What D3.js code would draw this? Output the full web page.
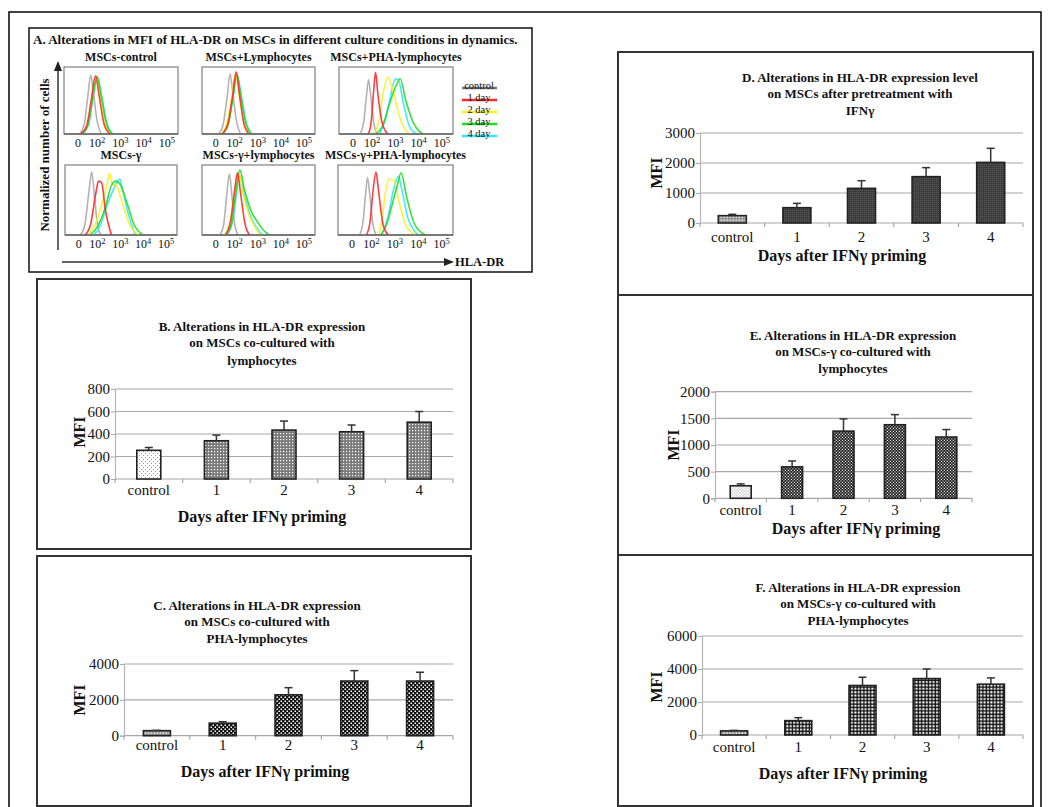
<!DOCTYPE html>
<html>
<head>
<meta charset="utf-8">
<script src="https://cdn.jsdelivr.net/npm/d3@7"></script>
<style>
  body { margin: 0; background: #fff; }
  svg text { font-family: "Liberation Serif", "Times New Roman", serif; fill: #111; }
</style>
</head>
<body>
<svg id="fig" width="1049" height="807"></svg>
<script>
// ---- data ----
const days = ["control", "1", "2", "3", "4"];

const mfiB = [255, 340, 435, 420, 505];
const errB = [25, 50, 80, 60, 95];
const mfiC = [280, 700, 2280, 3050, 3050];
const errC = [20, 80, 400, 580, 490];
const mfiD = [245, 510, 1155, 1545, 2020];
const errD = [45, 145, 255, 300, 470];
const mfiE = [235, 590, 1260, 1380, 1150];
const errE = [35, 110, 230, 190, 140];
const mfiF = [250, 870, 3000, 3420, 3080];
const errF = [30, 180, 500, 580, 380];

const ticksB = [0, 200, 400, 600, 800];
const ticksC = [0, 2000, 4000];
const ticksD = [0, 1000, 2000, 3000];
const ticksE = [0, 500, 1000, 1500, 2000];
const ticksF = [0, 2000, 4000, 6000];

// histogram legend
const legendLabels = ["control", "1 day", "2 day", "3 day", "4 day"];
const legendColors = ["#9a9a9a", "#ff2a2a", "#ffee22", "#22dd22", "#33e6ff"];

// histogram tick labels (decade position, exponent)
const histTicks = [[1.18, null], [2, "2"], [3, "3"], [4, "4"], [5, "5"]];

const histTitles = ["MSCs-control", "MSCs+Lymphocytes", "MSCs+PHA-lymphocytes",
                    "MSCs-γ", "MSCs-γ+lymphocytes", "MSCs-γ+PHA-lymphocytes"];

// curves: [log10 position, relative height], order grey, red, yellow, green, cyan
const histCtrl = [
  [[1.25,0],[1.45,0.15],[1.6,0.55],[1.73,0.88],[1.85,0.6],[2.0,0.2],[2.18,0]],
  [[1.3,0],[1.55,0.12],[1.75,0.5],[1.93,0.87],[2.1,0.55],[2.3,0.15],[2.55,0]],
  [[1.32,0],[1.6,0.15],[1.8,0.55],[1.97,0.87],[2.15,0.55],[2.35,0.15],[2.6,0]],
  [[1.35,0],[1.62,0.14],[1.82,0.55],[2.0,0.86],[2.18,0.57],[2.4,0.16],[2.65,0]],
  [[1.35,0],[1.63,0.14],[1.83,0.55],[2.01,0.85],[2.2,0.57],[2.42,0.16],[2.68,0]]
];
const histLymph = [
  [[1.3,0],[1.5,0.15],[1.67,0.55],[1.8,0.9],[1.92,0.6],[2.07,0.2],[2.25,0]],
  [[1.45,0],[1.7,0.15],[1.9,0.55],[2.06,0.93],[2.2,0.6],[2.4,0.15],[2.62,0]],
  [[1.4,0],[1.65,0.15],[1.87,0.55],[2.04,0.9],[2.2,0.55],[2.42,0.15],[2.65,0]],
  [[1.45,0],[1.72,0.15],[1.92,0.55],[2.09,0.9],[2.25,0.6],[2.47,0.17],[2.73,0]],
  [[1.45,0],[1.72,0.15],[1.93,0.55],[2.1,0.88],[2.27,0.6],[2.5,0.17],[2.75,0]]
];
const histPha = [
  [[1.5,0],[1.65,0.2],[1.77,0.6],[1.85,0.81],[1.95,0.55],[2.08,0.15],[2.21,0]],
  [[1.84,0],[1.97,0.2],[2.07,0.65],[2.15,0.92],[2.25,0.6],[2.45,0.15],[2.68,0]],
  [[2.11,0],[2.3,0.2],[2.5,0.65],[2.68,0.85],[2.9,0.65],[3.15,0.3],[3.4,0.08],[3.61,0]],
  [[2.18,0],[2.45,0.12],[2.75,0.45],[2.95,0.65],[3.21,0.82],[3.45,0.5],[3.8,0.15],[4.18,0]],
  [[2.33,0],[2.6,0.25],[2.85,0.65],[3.0,0.82],[3.12,0.82],[3.35,0.45],[3.6,0.12],[3.9,0]]
];
const histGamma = [
  [[1.25,0],[1.45,0.15],[1.62,0.6],[1.75,0.9],[1.87,0.55],[2.0,0.15],[2.15,0]],
  [[1.46,0],[1.7,0.15],[1.93,0.6],[2.05,0.77],[2.18,0.75],[2.35,0.35],[2.61,0]],
  [[1.61,0],[1.9,0.15],[2.2,0.45],[2.4,0.7],[2.54,0.88],[2.65,0.72],[2.8,0.72],[3.05,0.5],[3.4,0.15],[3.8,0]],
  [[1.68,0],[2.0,0.12],[2.35,0.4],[2.6,0.7],[2.8,0.77],[3.0,0.72],[3.3,0.45],[3.6,0.15],[4.0,0]],
  [[1.85,0],[2.1,0.12],[2.45,0.45],[2.8,0.72],[2.97,0.8],[3.1,0.65],[3.35,0.3],[3.65,0]]
];
const histGammaLymph = [
  [[1.35,0],[1.52,0.15],[1.66,0.6],[1.77,0.87],[1.88,0.55],[2.0,0.15],[2.15,0]],
  [[1.6,0],[1.82,0.2],[2.0,0.65],[2.12,0.89],[2.25,0.6],[2.45,0.15],[2.65,0]],
  [[1.55,0],[1.8,0.18],[2.0,0.6],[2.17,0.9],[2.35,0.6],[2.6,0.3],[2.9,0.1],[3.1,0]],
  [[1.6,0],[1.85,0.15],[2.05,0.6],[2.22,0.93],[2.42,0.65],[2.7,0.35],[3.0,0.18],[3.3,0.05],[3.5,0]],
  [[1.65,0],[1.9,0.18],[2.08,0.6],[2.2,0.86],[2.38,0.62],[2.65,0.3],[2.95,0.1],[3.2,0]]
];
const histGammaPha = [
  [[1.5,0],[1.65,0.2],[1.76,0.6],[1.84,0.82],[1.94,0.55],[2.07,0.15],[2.2,0]],
  [[1.8,0],[1.95,0.2],[2.08,0.65],[2.2,0.9],[2.3,0.65],[2.5,0.15],[2.72,0]],
  [[2.3,0],[2.45,0.2],[2.6,0.6],[2.75,0.8],[2.95,0.78],[3.2,0.45],[3.5,0.12],[3.9,0]],
  [[2.4,0],[2.65,0.15],[2.9,0.45],[3.1,0.7],[3.27,0.89],[3.5,0.55],[3.85,0.15],[4.3,0]],
  [[2.45,0],[2.7,0.25],[2.95,0.65],[3.15,0.84],[3.3,0.65],[3.55,0.25],[3.85,0.05],[4.0,0]]
];
const histData = [histCtrl, histLymph, histPha, histGamma, histGammaLymph, histGammaPha];

// ---- drawing ----
const svg = d3.select("#fig");
const defs = svg.append("defs");

function pattern(id, size, bg, dots, dotColor) {
  const p = defs.append("pattern")
      .attr("id", id)
      .attr("patternUnits", "userSpaceOnUse")
      .attr("width", size).attr("height", size);
  p.append("rect").attr("width", size).attr("height", size).attr("fill", bg);
  dots.forEach(d => p.append("rect")
      .attr("x", d[0]).attr("y", d[1]).attr("width", d[2]).attr("height", d[3])
      .attr("fill", dotColor));
}
pattern("lightDots", 4, "#fff", [[1,1,1,1],[3,3,1,1]], "#9a9a9a");
pattern("greyDots", 3, "#7a7a7a", [[1,1,1.2,1.2]], "#fff");
pattern("ctrlGrey", 3, "#8f8f8f", [[0.5,0.5,1.6,1.2]], "#fff");
pattern("checker", 4, "#111", [[0.5,0.5,1.5,1.5],[2.5,2.5,1.5,1.5]], "#fff");
pattern("darkFine", 2, "#3c3c3c", [[0,0,1,1]], "#5a5a5a");
pattern("checkerSmall", 3, "#151515", [[0.3,0.3,1.2,1.2],[1.8,1.8,1.2,1.2]], "#eee");
pattern("ctrlLight", 3, "#d4d4d4", [[0,0,1.5,1.5],[1.5,1.5,1.5,1.5]], "#fff");
pattern("grid", 3.4, "#111", [[1,1,2,2]], "#fff");

// outer frame
svg.append("rect")
    .attr("x", 9).attr("y", 12).attr("width", 1032).attr("height", 820)
    .attr("fill", "none").attr("stroke", "#111").attr("stroke-width", 1.6);

// ---- panel A: histograms ----
const panelA = svg.append("g").attr("class", "panel-a");
panelA.append("rect")
    .attr("x", 29).attr("y", 28).attr("width", 503).attr("height", 244)
    .attr("fill", "#fff").attr("stroke", "#111").attr("stroke-width", 1.5);
panelA.append("text")
    .attr("x", 33).attr("y", 44)
    .attr("font-size", 13).attr("font-weight", "bold")
    .text("A. Alterations in MFI of  HLA-DR on MSCs in different culture conditions in dynamics.");

const histBoxes = [
  {x0: 64, x1: 178, y0: 67, y1: 134},
  {x0: 202, x1: 315, y0: 67, y1: 134},
  {x0: 339, x1: 453, y0: 67, y1: 134},
  {x0: 65, x1: 177, y0: 165, y1: 235},
  {x0: 202, x1: 315, y0: 165, y1: 235},
  {x0: 338, x1: 453, y0: 165, y1: 235}
];
const drawOrder = [0, 4, 2, 3, 1];

histBoxes.forEach((b, i) => {
  const g = panelA.append("g");
  const hx = d3.scaleLinear().domain([0.58, 5.48]).range([b.x0, b.x1]);
  const hy = d3.scaleLinear().domain([0, 1]).range([b.y1, b.y0]);
  g.append("text")
      .attr("x", (b.x0 + b.x1) / 2).attr("y", b.y0 - 6)
      .attr("text-anchor", "middle").attr("font-size", 12).attr("font-weight", "bold")
      .text(histTitles[i]);
  g.append("rect")
      .attr("x", b.x0).attr("y", b.y0).attr("width", b.x1 - b.x0).attr("height", b.y1 - b.y0)
      .attr("fill", "#fff").attr("stroke", "#8a8a8a").attr("stroke-width", 1.3);
  const line = d3.line().x(d => hx(d[0])).y(d => hy(d[1])).curve(d3.curveMonotoneX);
  drawOrder.forEach(k => {
    g.append("path")
        .attr("d", line(histData[i][k]))
        .attr("fill", "none").attr("stroke", legendColors[k])
        .attr("stroke-width", 1.6).attr("opacity", k === 0 ? 0.75 : 0.9);
  });
  g.append("line")
      .attr("x1", b.x0).attr("x2", b.x1).attr("y1", b.y1).attr("y2", b.y1)
      .attr("stroke", "#666").attr("stroke-width", 1.3);
  histTicks.forEach(t => {
    const tx = g.append("text")
        .attr("x", hx(t[0])).attr("y", b.y1 + 13)
        .attr("text-anchor", "middle").attr("font-size", 12);
    if (t[1] === null) {
      tx.text("0");
    } else {
      tx.append("tspan").text("10");
      tx.append("tspan").attr("dy", -4).attr("font-size", 8.5).text(t[1]);
    }
  });
});

// legend
const legendY = [88, 100, 112, 124, 136];
legendLabels.forEach((lab, k) => {
  const ly = legendY[k];
  panelA.append("line")
      .attr("x1", 462).attr("x2", 497).attr("y1", ly).attr("y2", ly)
      .attr("stroke", k === 0 ? "#777" : legendColors[k]).attr("stroke-width", 2.6);
  panelA.append("text")
      .attr("x", 479).attr("y", ly + 1)
      .attr("text-anchor", "middle").attr("font-size", 10.5)
      .text(lab);
});

// axis arrows
const arrowDefs = defs.append("marker")
    .attr("id", "arrow").attr("viewBox", "0 0 10 10")
    .attr("refX", 8).attr("refY", 5)
    .attr("markerWidth", 7).attr("markerHeight", 7)
    .attr("orient", "auto-start-reverse");
arrowDefs.append("path").attr("d", "M0,1L10,5L0,9z").attr("fill", "#222");

panelA.append("line")
    .attr("x1", 58).attr("x2", 58).attr("y1", 250).attr("y2", 63)
    .attr("stroke", "#333").attr("stroke-width", 1.5).attr("marker-end", "url(#arrow)");
panelA.append("line")
    .attr("x1", 62).attr("x2", 452).attr("y1", 262).attr("y2", 262)
    .attr("stroke", "#333").attr("stroke-width", 1.5).attr("marker-end", "url(#arrow)");
panelA.append("text")
    .attr("x", 455).attr("y", 266)
    .attr("font-size", 12.5).attr("font-weight", "bold")
    .text("HLA-DR");
panelA.append("text")
    .attr("transform", "translate(49,155) rotate(-90)")
    .attr("text-anchor", "middle").attr("font-size", 13).attr("font-weight", "bold")
    .text("Normalized number of cells");

// ---- bar panels ----
const barPanels = [
  {values: mfiB, errors: errB, ticks: ticksB, box: [37, 279, 471, 549],
   plot: [115, 453, 479, 389], barW: 24, titleX: 262, titleY: [331, 347, 365],
   catY: 495, xLabY: 522, xLabX: 262, mfi: [80, 432],
   fills: ["lightDots", "greyDots"],
   title: ["B. Alterations in HLA-DR expression", "on MSCs co-cultured with", "lymphocytes"]},
  {values: mfiC, errors: errC, ticks: ticksC, box: [37, 556, 471, 806],
   plot: [124, 453, 735.7, 664], barW: 27, titleX: 257, titleY: [609.5, 625.5, 642.5],
   catY: 750, xLabY: 777, xLabX: 265, mfi: [80, 700],
   fills: ["ctrlGrey", "checker"],
   title: ["C. Alterations in HLA-DR expression", "on MSCs co-cultured with", "PHA-lymphocytes"]},
  {values: mfiD, errors: errD, ticks: ticksD, box: [618, 52, 1033, 295],
   plot: [700, 1023, 223, 133], barW: 28, titleX: 860, titleY: [81.5, 97.5, 114.5],
   catY: 242, xLabY: 260.5, xLabX: 842, mfi: [657, 173],
   fills: ["ctrlGrey", "darkFine"],
   title: ["D. Alterations in HLA-DR expression level", "on MSCs after pretreatment with", "IFNγ"]},
  {values: mfiE, errors: errE, ticks: ticksE, box: [618, 295, 1033, 555],
   plot: [715, 972, 498.3, 391.7], barW: 21, titleX: 853, titleY: [339.5, 355.5, 372.5],
   catY: 515, xLabY: 533.5, xLabX: 856, mfi: [674, 445],
   fills: ["ctrlLight", "checkerSmall"],
   title: ["E. Alterations in HLA-DR expression", "on MSCs-γ co-cultured with", "lymphocytes"]},
  {values: mfiF, errors: errF, ticks: ticksF, box: [618, 555, 1033, 806],
   plot: [702, 1023, 735, 636], barW: 27, titleX: 858, titleY: [591.5, 607.5, 624.5],
   catY: 752, xLabY: 778.5, xLabX: 843, mfi: [657, 687],
   fills: ["ctrlGrey", "grid"],
   title: ["F. Alterations in HLA-DR expression", "on MSCs-γ co-cultured with", "PHA-lymphocytes"]}
];

barPanels.forEach(p => {
  const g = svg.append("g");
  const [bx0, by0, bx1, by1] = p.box;
  g.append("rect")
      .attr("x", bx0).attr("y", by0).attr("width", bx1 - bx0).attr("height", by1 - by0)
      .attr("fill", "#fff").attr("stroke", "#333").attr("stroke-width", 2);

  const [px0, px1, py0, py1] = p.plot;
  const x = d3.scaleBand().domain(days).range([px0, px1]);
  const y = d3.scaleLinear().domain([0, d3.max(p.ticks)]).range([py0, py1]);

  p.title.forEach((t, i) => {
    g.append("text")
        .attr("x", p.titleX).attr("y", p.titleY[i])
        .attr("text-anchor", "middle").attr("font-size", 13).attr("font-weight", "bold")
        .text(t);
  });

  // gridlines
  g.append("g").selectAll("line")
      .data(p.ticks)
      .enter().append("line")
        .attr("x1", px0).attr("x2", px1)
        .attr("y1", d => y(d)).attr("y2", d => y(d))
        .attr("stroke", "#a8a8a8").attr("stroke-width", 1.2);

  const yAxis = d3.axisLeft(y)
      .tickValues(p.ticks)
      .tickFormat(d3.format("d"))
      .tickSize(4)
      .tickPadding(1);
  const ya = g.append("g")
      .attr("transform", `translate(${px0},0)`)
      .call(yAxis)
      .attr("font-family", null);
  ya.select(".domain").attr("stroke", "#b5b5b5").attr("stroke-width", 1.2);
  ya.selectAll(".tick line").attr("stroke", "#a8a8a8");
  ya.selectAll("text")
      .attr("font-size", 15).attr("fill", "#222");

  // category boundary ticks
  const bounds = days.map(d => x(d)).concat([px1]);
  g.append("g").selectAll("line")
      .data(bounds)
      .enter().append("line")
        .attr("x1", d => d).attr("x2", d => d)
        .attr("y1", py0).attr("y2", py0 + 4)
        .attr("stroke", "#a8a8a8").attr("stroke-width", 1.2);

  g.append("g").selectAll("text")
      .data(days)
      .enter().append("text")
        .attr("x", d => x(d) + x.bandwidth() / 2)
        .attr("y", p.catY)
        .attr("text-anchor", "middle").attr("font-size", 15).attr("fill", "#222")
        .text(d => d);

  // bars
  const rows = days.map((d, i) => ({day: d, v: p.values[i], e: p.errors[i], i}));
  g.append("g").selectAll("rect")
      .data(rows)
      .enter().append("rect")
        .attr("x", d => x(d.day) + (x.bandwidth() - p.barW) / 2)
        .attr("y", d => y(d.v))
        .attr("width", p.barW)
        .attr("height", d => y(0) - y(d.v))
        .attr("fill", d => `url(#${d.i === 0 ? p.fills[0] : p.fills[1]})`)
        .attr("stroke", "#222").attr("stroke-width", 1.6);

  // error bars (upper only)
  const eb = g.append("g").selectAll("g")
      .data(rows)
      .enter().append("g");
  eb.append("line")
      .attr("x1", d => x(d.day) + x.bandwidth() / 2)
      .attr("x2", d => x(d.day) + x.bandwidth() / 2)
      .attr("y1", d => y(d.v)).attr("y2", d => y(d.v + d.e))
      .attr("stroke", "#333").attr("stroke-width", 1.5);
  eb.append("line")
      .attr("x1", d => x(d.day) + x.bandwidth() / 2 - 4)
      .attr("x2", d => x(d.day) + x.bandwidth() / 2 + 4)
      .attr("y1", d => y(d.v + d.e)).attr("y2", d => y(d.v + d.e))
      .attr("stroke", "#333").attr("stroke-width", 1.5);

  g.append("text")
      .attr("x", p.xLabX).attr("y", p.xLabY)
      .attr("text-anchor", "middle").attr("font-size", 16).attr("font-weight", "bold")
      .text("Days after IFNγ priming");
  g.append("text")
      .attr("transform", `translate(${p.mfi[0] + 5},${p.mfi[1]}) rotate(-90)`)
      .attr("text-anchor", "middle").attr("font-size", 16).attr("font-weight", "bold")
      .text("MFI");
});
</script>
</body>
</html>
